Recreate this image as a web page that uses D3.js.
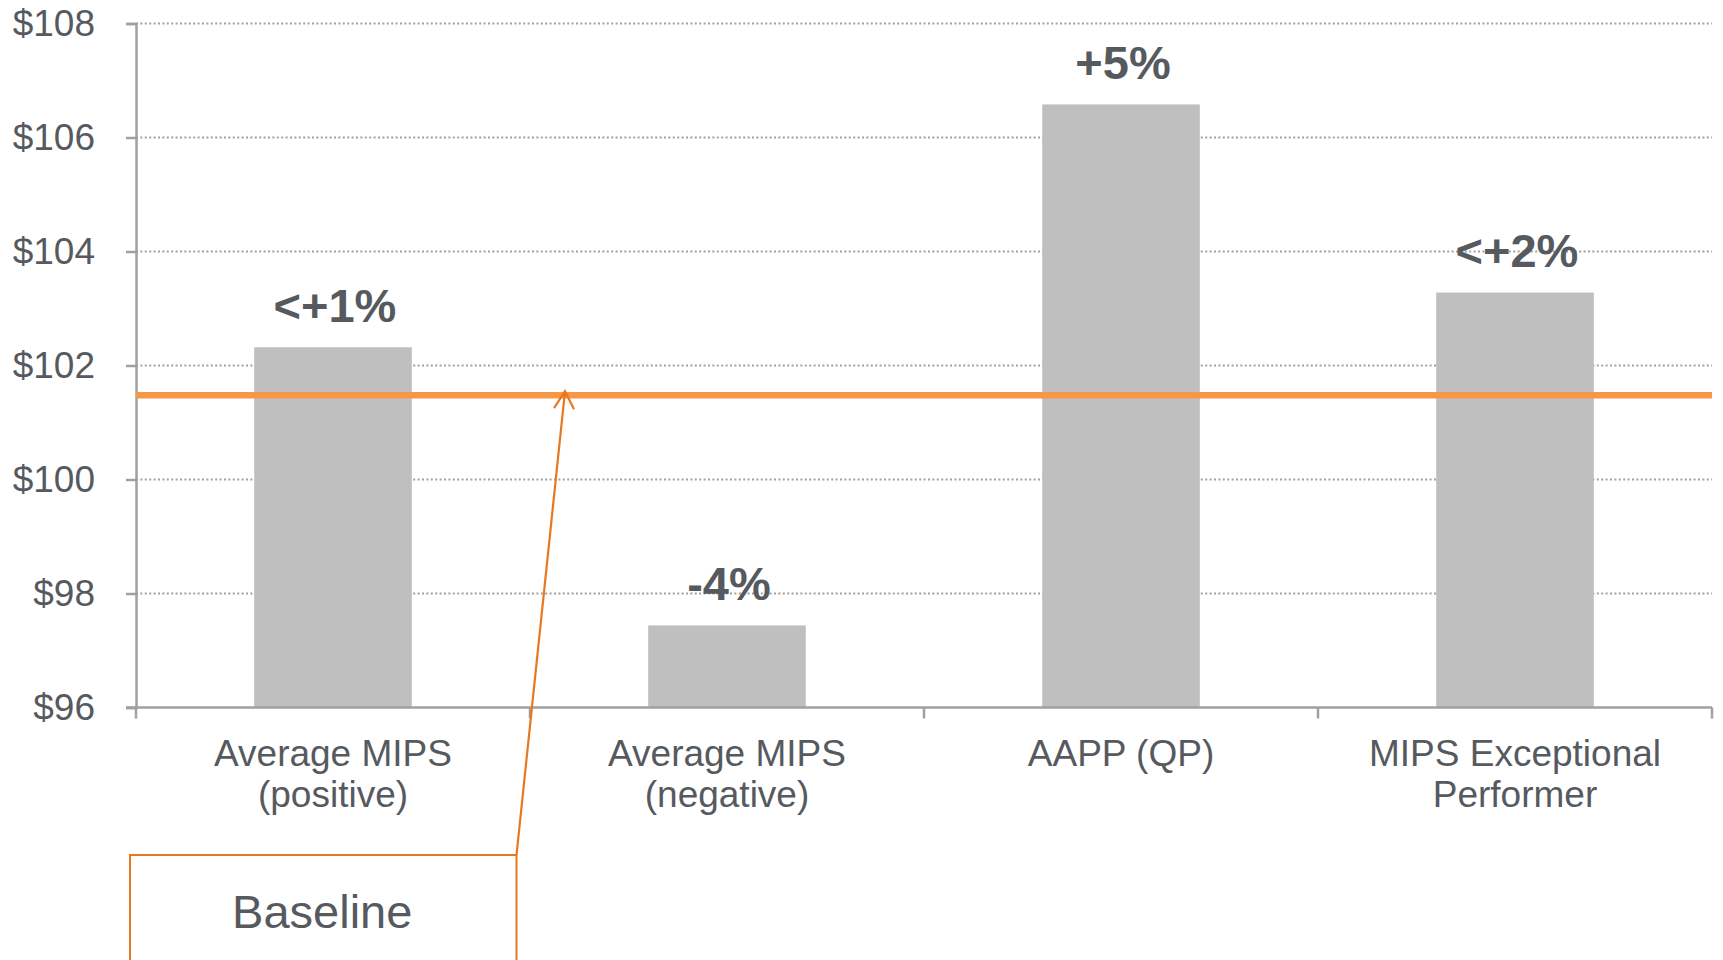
<!DOCTYPE html>
<html>
<head>
<meta charset="utf-8">
<script src="https://cdn.jsdelivr.net/npm/d3@7"></script>
<style>
  html, body { margin: 0; padding: 0; background: #ffffff; }
  svg { display: block; }
  text { font-family: "Liberation Sans", Arial, sans-serif; }
</style>
</head>
<body>
<script>
// ---- Data ----
const categories = ["Average MIPS|(positive)", "Average MIPS|(negative)", "AAPP (QP)", "MIPS Exceptional|Performer"];
const values = [102.32, 97.44, 106.58, 103.28];
const valueLabels = ["<+1%", "-4%", "+5%", "<+2%"];
const yTicks = [96, 98, 100, 102, 104, 106, 108];
const yTickLabels = ["$96", "$98", "$100", "$102", "$104", "$106", "$108"];
const baselineValue = 101.48;
const annotationText = ["Baseline"];

// ---- Layout ----
const W = 1723, H = 960;
const mLeft = 136, mRight = 1712, mTop = 23.5, mBottom = 707.5;
const textColor = "#565a5f";
const axisColor = "#a0a0a0";

const svg = d3.select("body").append("svg").attr("width", W).attr("height", H);

const x = d3.scaleBand().domain(categories).range([mLeft, mRight]).paddingInner(0.6).paddingOuter(0.3);
const y = d3.scaleLinear().domain([96, 108]).range([mBottom, mTop]);
const step = x.step();

// Gridlines (dotted)
svg.append("g").selectAll("line").data(yTicks.filter(t => t > 96)).join("line")
  .attr("x1", mLeft).attr("x2", mRight)
  .attr("y1", d => y(d)).attr("y2", d => y(d))
  .attr("stroke", "#a0a0a0").attr("stroke-width", 2).attr("stroke-dasharray", "2,2.4");

// Y axis
const yAxis = d3.axisLeft(y).tickValues(yTicks).tickFormat((d, i) => yTickLabels[i]).tickSize(10).tickPadding(31);
const gy = svg.append("g").attr("transform", `translate(${mLeft},0)`).call(yAxis);
gy.select(".domain").attr("stroke", axisColor).attr("stroke-width", 2.5);
gy.selectAll(".tick line").attr("stroke", axisColor).attr("stroke-width", 2.5);
gy.selectAll(".tick text").attr("fill", textColor).attr("font-size", 37)
  .attr("font-family", "'Liberation Sans', Arial, sans-serif");

// Bars
svg.append("g").selectAll("rect").data(categories).join("rect")
  .attr("x", d => x(d)).attr("width", x.bandwidth())
  .attr("y", (d, i) => y(values[i])).attr("height", (d, i) => y(96) - y(values[i]))
  .attr("fill", "#bfbfbf");

// X axis line and ticks at band boundaries
svg.append("line").attr("x1", mLeft - 10).attr("x2", mRight).attr("y1", y(96)).attr("y2", y(96))
  .attr("stroke", axisColor).attr("stroke-width", 2.5);
const boundaries = d3.range(categories.length + 1).map(i => mLeft + i * step);
svg.append("g").selectAll("line").data(boundaries).join("line")
  .attr("x1", d => d).attr("x2", d => d).attr("y1", y(96)).attr("y2", y(96) + 11)
  .attr("stroke", axisColor).attr("stroke-width", 2.5);

// Category labels
const catG = svg.append("g").selectAll("text").data(categories).join("text")
  .attr("x", d => x(d) + x.bandwidth() / 2).attr("y", y(96) + 58)
  .attr("text-anchor", "middle").attr("fill", textColor).attr("font-size", 37);
catG.selectAll("tspan").data(d => d.split("|")).join("tspan")
  .attr("x", function() { return d3.select(this.parentNode).attr("x"); })
  .attr("dy", (d, i) => i === 0 ? 0 : 41)
  .text(d => d);

// Value labels
svg.append("g").selectAll("text").data(categories).join("text")
  .attr("x", d => x(d) + x.bandwidth() / 2 + 2).attr("y", (d, i) => y(values[i]) - 25.5)
  .attr("text-anchor", "middle").attr("fill", textColor).attr("font-size", 47).attr("font-weight", "bold")
  .text((d, i) => valueLabels[i]);

// Baseline line
svg.append("line").attr("x1", mLeft).attr("x2", mRight)
  .attr("y1", y(baselineValue)).attr("y2", y(baselineValue))
  .attr("stroke", "#f79646").attr("stroke-width", 6.5);

// Annotation callout
const annoColor = "#e8781f";
const tipX = mLeft + step + 35, tipY = y(baselineValue) - 4;
const boxL = mLeft - 6, boxR = mLeft + step - 13.5, boxT = 855;
svg.append("path")
  .attr("d", `M${boxL},${H + 5} V${boxT} H${boxR} V${H + 5}`)
  .attr("fill", "none").attr("stroke", annoColor).attr("stroke-width", 2);
svg.append("line").attr("x1", boxR).attr("y1", boxT).attr("x2", tipX).attr("y2", tipY)
  .attr("stroke", annoColor).attr("stroke-width", 2.2);
svg.append("path")
  .attr("d", `M${tipX - 11},${tipY + 17} L${tipX},${tipY} L${tipX + 9},${tipY + 18}`)
  .attr("fill", "none").attr("stroke", annoColor).attr("stroke-width", 2.2);
svg.append("text").attr("x", (boxL + boxR) / 2 - 1).attr("y", 928)
  .attr("text-anchor", "middle").attr("fill", textColor).attr("font-size", 47)
  .text(annotationText[0]);
</script>
</body>
</html>
